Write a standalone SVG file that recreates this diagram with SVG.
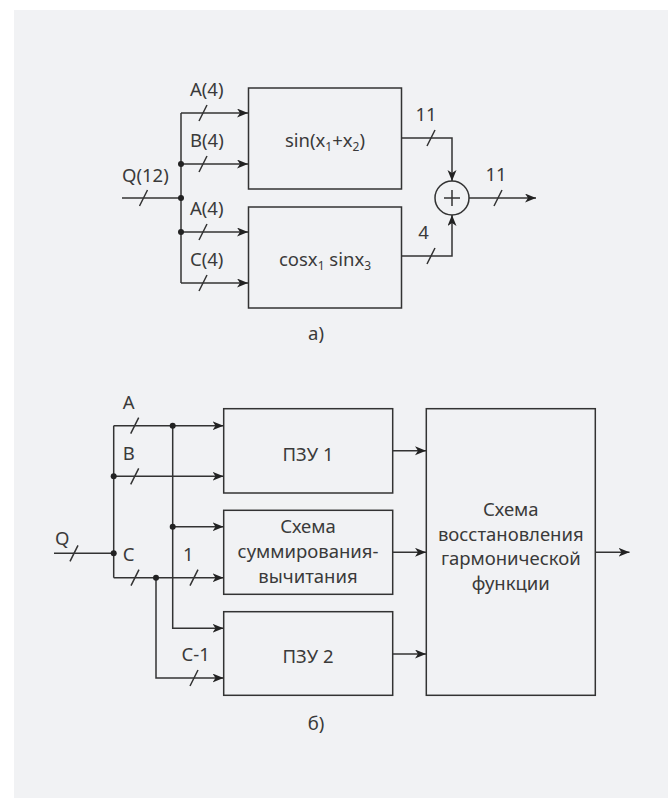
<svg xmlns="http://www.w3.org/2000/svg" width="668" height="798" viewBox="0 0 668 798">
<style>
.ln{fill:none;stroke:#333;stroke-width:1.5}
.arr{marker-end:url(#ah)}
.box{fill:none;stroke:#333;stroke-width:1.5}
.dot{fill:#222}
text{font-family:"Noto Sans","Open Sans",sans-serif;font-size:18.5px;fill:#3a3a3a}
.c{text-anchor:middle}
.sub{font-size:12px}
</style>
<defs>
<marker id="ah" markerUnits="userSpaceOnUse" markerWidth="12" markerHeight="10" refX="11" refY="4.5" orient="auto">
<path d="M0,0 L11,4.5 L0,9 L3,4.5 z" fill="#222"/>
</marker>
</defs>
<rect x="14" y="10" width="654" height="788" fill="#f1f2f4"/>

<!-- Diagram a) -->
<g id="a-box1"><rect class="box" x="248.5" y="88" width="153" height="101"/>
<text x="325" y="147" class="c">sin(x<tspan class="sub" dy="4">1</tspan><tspan dy="-4">+x</tspan><tspan class="sub" dy="4">2</tspan><tspan dy="-4">)</tspan></text></g>
<g id="a-box2"><rect class="box" x="248.5" y="207" width="153" height="101"/>
<text x="325" y="265.5" class="c">cosx<tspan class="sub" dy="4">1</tspan><tspan dy="-4"> sinx</tspan><tspan class="sub" dy="4">3</tspan></text></g>
<g id="a-sum"><circle cx="452" cy="198" r="17" fill="none" stroke="#333" stroke-width="1.5"/>
<path class="ln" d="M444,198 H460 M452,190 V206"/></g>
<g id="a-label"><text x="316" y="340" class="c">a)</text></g>

<g id="a-connectors">
<path class="ln" d="M122,198 H181"/>
<path class="ln" d="M181,113 V283"/>
<path class="ln arr" d="M181,113 H248"/>
<path class="ln arr" d="M181,164 H248"/>
<path class="ln arr" d="M181,232 H248"/>
<path class="ln arr" d="M181,283 H248"/>
<path class="ln arr" d="M401.5,138 H452 V181"/>
<path class="ln arr" d="M401.5,256 H452 V215"/>
<path class="ln arr" d="M469,198 H536"/>
<circle class="dot" cx="181" cy="164" r="3"/>
<circle class="dot" cx="181" cy="198" r="3"/>
<circle class="dot" cx="181" cy="232" r="3"/>
<path class="ln" d="M139.5,206 L147.5,190 M199,121 L207,105 M199,172 L207,156 M199,240 L207,224 M199,291 L207,275 M427,146 L435,130 M427,264 L435,248 M494,206 L502,190"/>
<text x="122" y="182">Q(12)</text>
<text x="190" y="96">A(4)</text>
<text x="190" y="147">B(4)</text>
<text x="190" y="215">A(4)</text>
<text x="190" y="266">C(4)</text>
<text x="426" y="121" class="c">11</text>
<text x="423.5" y="239" class="c">4</text>
<text x="496" y="181" class="c">11</text>
</g>

<!-- Diagram б) -->
<g id="b-rom1"><rect class="box" x="223.7" y="408.7" width="169" height="84.3"/>
<text x="308" y="460.5" class="c">ПЗУ 1</text></g>
<g id="b-sum"><rect class="box" x="223.7" y="510.3" width="169" height="84"/>
<text x="308" y="533.3" class="c">Схема</text>
<text x="308" y="558.3" class="c">суммирования-</text>
<text x="308" y="582.7" class="c">вычитания</text></g>
<g id="b-rom2"><rect class="box" x="223.7" y="611.7" width="169" height="83.6"/>
<text x="308" y="663.3" class="c">ПЗУ 2</text></g>
<g id="b-restore"><rect class="box" x="426.3" y="408.7" width="169" height="286.6"/>
<text x="510.8" y="515.7" class="c">Схема</text>
<text x="510.8" y="540.7" class="c">восстановления</text>
<text x="510.8" y="565" class="c">гармонической</text>
<text x="510.8" y="590" class="c">функции</text></g>
<g id="b-label"><text x="316" y="730" class="c">б)</text></g>

<g id="b-connectors">
<path class="ln" d="M54,553.3 H113.7"/>
<path class="ln" d="M113.7,425.7 V577.7"/>
<path class="ln arr" d="M113.7,425.7 H223.5"/>
<path class="ln arr" d="M113.7,476.3 H223.5"/>
<path class="ln arr" d="M172.7,425.7 V628.3 H223.5"/>
<path class="ln arr" d="M172.7,526.7 H223.5"/>
<path class="ln arr" d="M113.7,577.7 H223.5"/>
<path class="ln arr" d="M156,577.7 V678 H223.5"/>
<path class="ln arr" d="M392.7,450.7 H426"/>
<path class="ln arr" d="M392.7,552.3 H426"/>
<path class="ln arr" d="M392.7,654 H426"/>
<path class="ln arr" d="M595.3,552.3 H629.5"/>
<circle class="dot" cx="172.7" cy="425.7" r="3"/>
<circle class="dot" cx="113.7" cy="476.3" r="3"/>
<circle class="dot" cx="172.7" cy="526.7" r="3"/>
<circle class="dot" cx="113.7" cy="553.3" r="3"/>
<circle class="dot" cx="156" cy="577.7" r="3"/>
<path class="ln" d="M70,561.3 L78,545.3 M130.7,433.7 L138.7,417.7 M130.7,484.3 L138.7,468.3 M131,585.7 L139,569.7 M190,585.7 L198,569.7 M190,686 L198,670"/>
<text x="122.7" y="409">A</text>
<text x="122.7" y="460">B</text>
<text x="55" y="545">Q</text>
<text x="122.7" y="561">C</text>
<text x="183" y="561">1</text>
<text x="181.5" y="661">C-1</text>
</g>
</svg>
